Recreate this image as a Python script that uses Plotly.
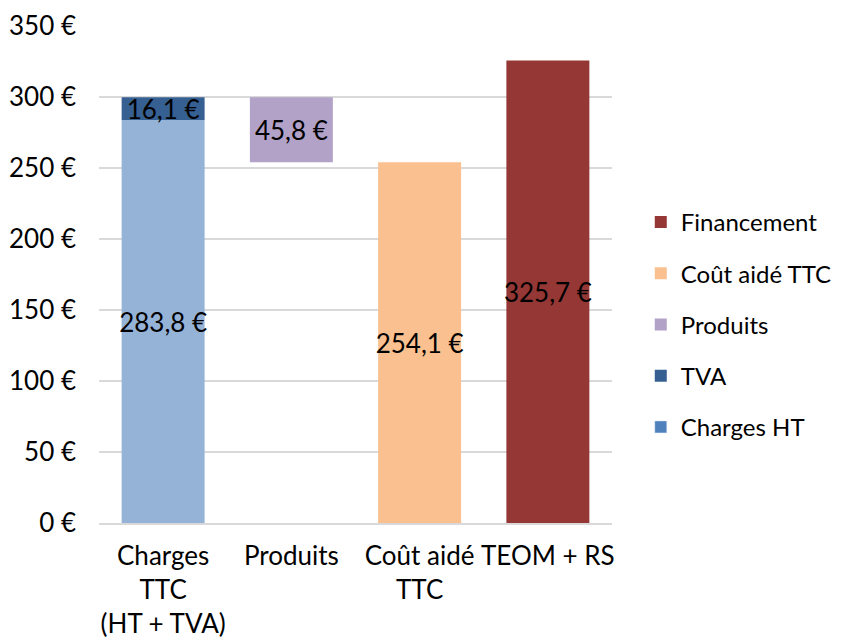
import plotly.graph_objects as go

categories = ["Charges<br>TTC<br>(HT + TVA)", "Produits", "Coût aidé<br>TTC", "TEOM + RS"]
charges_ht = [283.8, None, None, None]
tva = [16.1, None, None, None]
produits = [None, 45.8, None, None]
cout_aide = [None, None, 254.1, None]
financement = [None, None, None, 325.7]
y_ticks = [0, 50, 100, 150, 200, 250, 300, 350]
y_tick_labels = [f"{v} €" for v in y_ticks]

def fmt(v):
    return None if v is None else f"{v:.1f}".replace(".", ",") + " €"

tva_base = [c if t is not None else None for c, t in zip(charges_ht, tva)]
prod_base = [cout_aide[2] if p is not None else None for p in produits]

FONT = "Lato"
FS = 26
LFS = 24

fig = go.Figure()
common = dict(textposition="inside", insidetextanchor="middle", textangle=0,
              textfont=dict(color="black", size=FS, family=FONT),
              marker_line_width=0)

# legend proxy for Charges HT (legend swatch is a darker blue in the reference)
fig.add_trace(go.Bar(x=[categories[0]], y=[None], name="Charges HT", legendgroup="a",
                     legendrank=5, marker_color="#4F81BD", showlegend=True, hoverinfo="skip"))
fig.add_trace(go.Bar(x=categories, y=charges_ht, name="Charges HT", showlegend=False,
                     legendgroup="a",
                     marker_color="#95B3D7", text=[fmt(v) for v in charges_ht], **common))
fig.add_trace(go.Bar(x=categories, y=tva, base=tva_base, name="TVA", legendgroup="b",
                     legendrank=4,
                     marker_color="#376092", text=[fmt(v) for v in tva], **common))
fig.add_trace(go.Bar(x=categories, y=produits, base=prod_base, name="Produits", legendgroup="c",
                     legendrank=3,
                     marker_color="#B3A2C7", text=[fmt(v) for v in produits], **common))
fig.add_trace(go.Bar(x=categories, y=cout_aide, name="Coût aidé TTC", legendgroup="d",
                     legendrank=2,
                     marker_color="#FAC090", text=[fmt(v) for v in cout_aide], **common))
fig.add_trace(go.Bar(x=categories, y=financement, name="Financement", legendgroup="e",
                     legendrank=1,
                     marker_color="#953735", text=[fmt(v) for v in financement], **common))

# the page adds an 8px body margin, so the figure is drawn 8px in from the corner
fig.update_layout(
    width=837, height=633,
    margin=dict(l=91, r=233, t=18, b=117.5, autoexpand=False),
    barmode="overlay", bargap=0.353,
    plot_bgcolor="white", paper_bgcolor="white",
    font=dict(family=FONT, size=FS, color="black"),
    uniformtext=dict(mode="show", minsize=FS),
    legend=dict(x=0.756, y=0.50, xref="container", yref="container",
                xanchor="left", yanchor="middle",
                traceorder="grouped", font=dict(size=LFS, family=FONT),
                tracegroupgap=17, itemclick=False, groupclick="toggleitem",
                bgcolor="rgba(0,0,0,0)"),
    showlegend=True,
)
fig.update_yaxes(range=[0, 350], tickvals=y_ticks, ticktext=y_tick_labels,
                 showgrid=True, gridcolor="#D9D9D9", gridwidth=1.5,
                 zeroline=False, showline=False, ticks="", ticklabelstandoff=22,
                 tickfont=dict(size=FS, family=FONT), automargin=False)
fig.update_xaxes(showline=True, linecolor="#D9D9D9", linewidth=1.5, ticks="",
                 tickfont=dict(size=FS, family=FONT), tickangle=0, automargin=False,
                 ticklabelstandoff=9)

fig.write_html("out.html")
